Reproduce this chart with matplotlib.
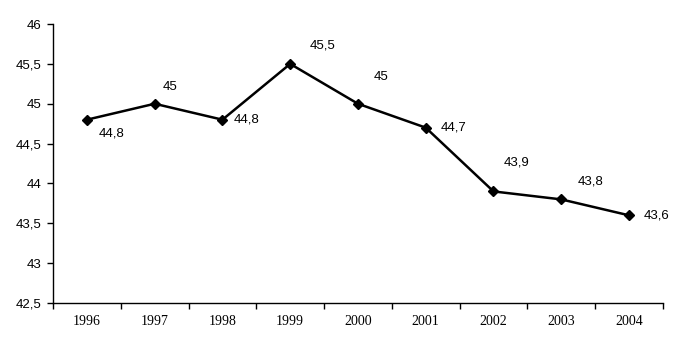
import matplotlib
matplotlib.use("Agg")
import matplotlib.pyplot as plt
from matplotlib.ticker import FixedLocator, NullFormatter

years = ["1996", "1997", "1998", "1999", "2000", "2001", "2002", "2003", "2004"]
values = [44.8, 45.0, 44.8, 45.5, 45.0, 44.7, 43.9, 43.8, 43.6]

# label offsets in pixels (dx, dy) relative to each point
offsets = [(25, -14), (15, 17), (24, 0), (32, 18), (23, 27), (28, 0), (23, 29), (29, 18), (28, 0)]

sans = ['Liberation Sans', 'DejaVu Sans']
serif = ['Liberation Serif', 'DejaVu Serif']

fig = plt.figure(figsize=(6.83, 3.59), dpi=100)
ax = fig.add_axes([0.0776, 0.156, 0.893, 0.777])

x = list(range(len(years)))
ax.plot(x, values, color='black', lw=1.8, marker='D', ms=5.5, mfc='black', mec='black')

def fmt(v):
    s = ('%.1f' % v).rstrip('0').rstrip('.')
    return s.replace('.', ',')

for xi, v, (dx, dy) in zip(x, values, offsets):
    ax.annotate(fmt(v), (xi, v), xytext=(dx, dy), textcoords='offset pixels',
                ha='center', va='center', fontsize=9.5, family=sans)

ax.set_xlim(-0.5, len(years) - 0.5)
ax.set_ylim(42.5, 46)
yt = [42.5 + 0.5 * i for i in range(8)]
ax.set_yticks(yt)
ax.set_yticklabels([fmt(t) for t in yt], fontsize=9.5, family=sans)

ax.set_xticks(x)
ax.set_xticklabels(years, fontsize=10, family=serif)
ax.tick_params(axis='x', which='major', length=0, pad=9)
ax.xaxis.set_minor_locator(FixedLocator([i - 0.5 for i in range(len(years) + 1)]))
ax.xaxis.set_minor_formatter(NullFormatter())
ax.tick_params(axis='x', which='minor', length=4, width=1, direction='out')
ax.tick_params(axis='y', length=4, width=1, direction='out', pad=4)

for s in ['top', 'right']:
    ax.spines[s].set_visible(False)
for s in ['left', 'bottom']:
    ax.spines[s].set_linewidth(1)

fig.savefig("out.png", dpi=100)
